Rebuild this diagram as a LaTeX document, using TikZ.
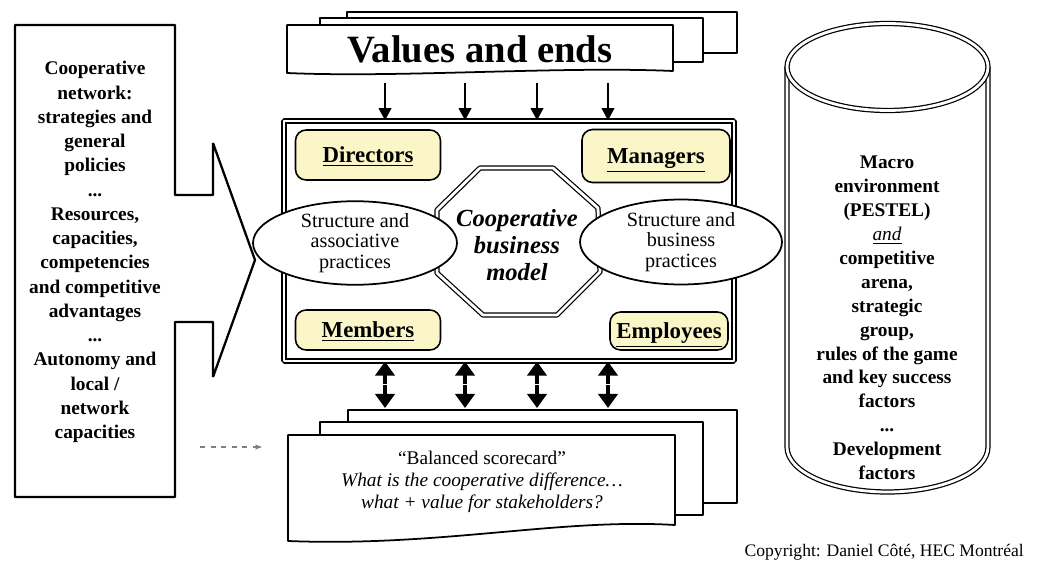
\documentclass[tikz,border=0pt]{standalone}
\usepackage{fontspec}
\setmainfont{Liberation Serif}
\usepackage{tikz}
\usetikzlibrary{calc}
\usetikzlibrary{positioning}
\usetikzlibrary{shapes.geometric}
\usetikzlibrary{arrows.meta}
\definecolor{paleyellow}{RGB}{250,246,200}

\begin{document}
\begin{tikzpicture}[x=0.02cm, y=-0.02cm, line join=bevel,
    sheet/.style={draw, line width=1pt, fill=white},
    actor/.style={draw, line width=0.9pt, rounded corners=6pt, fill=paleyellow, text height=11pt, text depth=2pt, font=\fontsize{13}{15}\selectfont\bfseries},
    practice/.style={draw, ellipse, line width=1pt, fill=white, align=center, inner sep=0pt, font=\fontsize{11.5}{11.6}\selectfont},
    twin/.style={double=white, double distance=1.6pt, line width=0.7pt},
    down/.style={-{Triangle[length=7pt,width=7pt]}, line width=1.6pt},
    both/.style={{Triangle[length=8pt,width=11pt]}-{Triangle[length=8pt,width=11pt]}, line width=1.8pt}]
            \useasboundingbox (0,0) rectangle (1037,564);

            % left block with arrow
            \draw[sheet, line width=1.3pt] (15,25) -- (175,25) -- (175,195) -- (213,195) -- (213,143) -- (255,260)
                -- (213,377) -- (213,322) -- (175,322) -- (175,497) -- (15,497) -- cycle;
            \node[align=center, font=\fontsize{11}{13.8}\selectfont\bfseries] (network) at (95,252)
                {Cooperative\\network:\\strategies and\\general\\policies\\...\\Resources,\\capacities,\\competencies\\and competitive\\advantages\\...\\Autonomy and\\local /\\network\\capacities};

            % values
            \draw[sheet] (347,12) rectangle (737,53);
            \draw[sheet] (320,18) rectangle (703,62);
            \draw[sheet] (287,25) -- (673,25) -- (673,71) .. controls (560,66) and (400,78) .. (287,73) -- cycle;
            \node[font=\fontsize{22}{24}\selectfont\bfseries, minimum width=7.72cm, minimum height=0.96cm] (values) at (480,49) {Values and ends};

            % central model
            \node[draw, twin, minimum width=9.0cm, minimum height=4.8cm] (core) at (509,241) {};
            \foreach \x in {385,465,537,608}
                \draw[down, shorten <=0.2cm] (\x,0 |- values.south) -- (\x,0 |- core.north);

            \node[actor, minimum width=2.9cm, minimum height=1cm] (directors) at (368,155) {\underline{Directors}};
            \node[actor, minimum width=2.96cm, minimum height=1.06cm] (managers) at (656,156) {\underline{Managers}};
            \node[actor, minimum width=2.9cm, minimum height=0.8cm] (members) at (368,330) {\underline{Members}};
            \node[actor, minimum width=2.36cm, minimum height=0.76cm] (employees) at (669,331) {\underline{Employees}};

            \coordinate (H1) at (480,168);
            \coordinate (H2) at (553,168);
            \coordinate (H3) at (598,208);
            \coordinate (H4) at (600,272);
            \coordinate (H5) at (557,315);
            \coordinate (H6) at (483,315);
            \coordinate (H7) at (437,273);
            \coordinate (H8) at (437,210);
            \draw[twin, fill=white] (H1) -- (H2) -- (H3) -- (H4) -- (H5) -- (H6) -- (H7) -- (H8) -- cycle;
            \node[align=center, font=\fontsize{14}{15.6}\selectfont\bfseries\itshape] (model) at (517,245) {Cooperative\\business\\model};

            \node[practice, minimum width=4.08cm, minimum height=1.62cm] (assoc) at (355,243) {Structure and\\associative\\practices};
            \node[practice, minimum width=4.04cm, minimum height=1.7cm] (business) at (681,242) {Structure and\\business\\practices};

            % scorecard
            \draw[sheet] (348,410) rectangle (737,503);
            \draw[sheet] (320,422) rectangle (703,515);
            \draw[sheet] (288,435) -- (675,435) -- (675,525) .. controls (560,518) and (440,547) .. (288,541) -- cycle;
            \coordinate (stacktop) at (348,408);
            \node[align=center, font=\fontsize{11}{12.5}\selectfont] (scorecard) at (482,482)
                {``Balanced scorecard''\\\textit{What is the cooperative difference\ldots}\\\textit{what + value for stakeholders?}};
            \foreach \x in {385,465,537,608} {
                \draw[both] (\x,0 |- core.south) -- (\x,0 |- stacktop);
                \draw[white, line width=0.6pt] ($(\x,0 |- core.south)!0.5!(\x,0 |- stacktop)$) +(-4,0) -- +(4,0);
            }
            \coordinate (hint) at (200,447);
            \coordinate (hintend) at (262,447);
            \draw[dashed, gray, line width=0.8pt, -{Stealth[length=4pt]}] (hint) -- (hintend);

            % environment cylinder
            \draw[twin, fill=white] (787,67) -- (787,447) arc[start angle=180, end angle=360, x radius=2.01cm, y radius=0.9cm] -- (988,67);
            \draw[twin, fill=white] (887.5,67) ellipse [x radius=2.01cm, y radius=0.87cm];
            \node[align=center, font=\fontsize{11}{13.6}\selectfont\bfseries] (macro) at (887,318)
                {Macro\\environment\\(PESTEL)\\\underline{\mdseries\itshape and}\\competitive\\arena,\\strategic\\group,\\rules of the game\\and key success\\factors\\...\\Development\\factors};

            \node[anchor=east, font=\fontsize{10}{12}\selectfont] (credit) at (1030,552) {Copyright: Daniel Côté, HEC Montréal};
        \end{tikzpicture}
\end{document}
